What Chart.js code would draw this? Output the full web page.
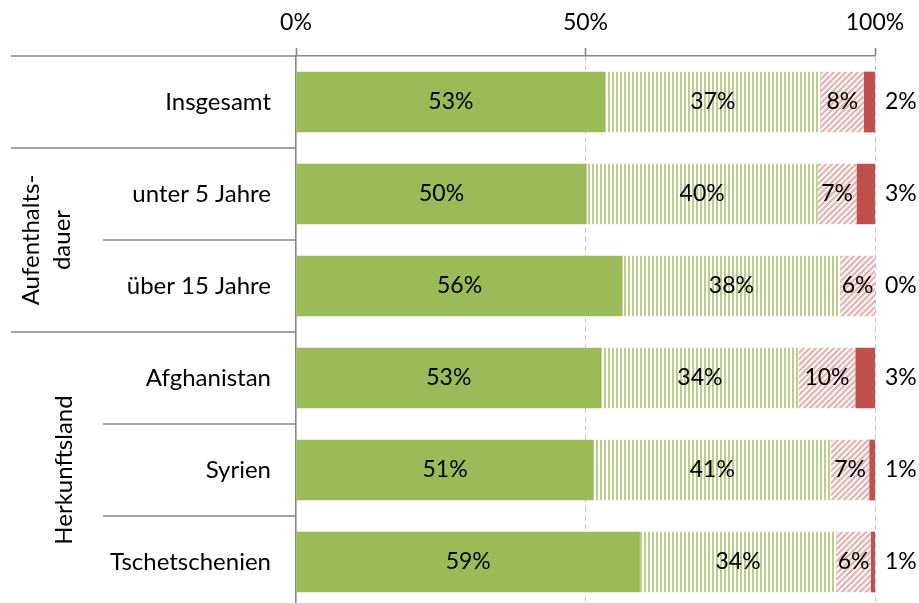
<!DOCTYPE html>
<html>
<head>
<meta charset="utf-8">
<script src="https://cdn.jsdelivr.net/npm/chart.js@4"></script>
<style>
  html, body { margin: 0; padding: 0; background: #fff; overflow: hidden; }
  #wrap { position: relative; width: 919px; height: 608px; }
</style>
</head>
<body>
<div id="wrap"><canvas id="chart"></canvas></div>
<script>
/* ==========================================================================
   DATA
   ========================================================================== */
const categories = ["Insgesamt", "unter 5 Jahre", "über 15 Jahre", "Afghanistan", "Syrien", "Tschetschenien"];
const solidGreen = [53.4, 50.2, 56.4, 52.7, 51.4, 59.4];
const stripedGreen = [37.2, 39.9, 37.6, 34.1, 41.0, 33.9];
const hatchedRed = [7.5, 6.7, 6.0, 9.8, 6.6, 6.0];
const solidRed = [1.9, 3.2, 0, 3.4, 1.0, 0.7];
const xTicks = [0, 50, 100];

// row groups on the left side (index of first and last category)
const groupLabels = [["Aufenthalts-", "dauer"], ["Herkunftsland"]];
const groupFirst = [1, 3];
const groupLast = [2, 5];

const FONT = "Lato, 'Open Sans', sans-serif";
const LINE_GREY = "#868686";

/* ==========================================================================
   PATTERNS
   ========================================================================== */
function stripePattern() {
    const c = document.createElement("canvas");
    c.width = 4; c.height = 4;
    const g = c.getContext("2d");
    g.fillStyle = "#ffffff";
    g.fillRect(0, 0, 4, 4);
    g.fillStyle = "#bad08a";
    g.fillRect(0, 0, 2, 4);
    return g.createPattern(c, "repeat");
}

function hatchPattern() {
    const s = 6;
    const c = document.createElement("canvas");
    c.width = s; c.height = s;
    const g = c.getContext("2d");
    g.fillStyle = "#ffffff";
    g.fillRect(0, 0, s, s);
    g.strokeStyle = "#e6b5b4";
    g.lineWidth = 2.4;
    g.beginPath();
    g.moveTo(0, s); g.lineTo(s, 0);
    g.moveTo(-2, 2); g.lineTo(2, -2);
    g.moveTo(s - 2, s + 2); g.lineTo(s + 2, s - 2);
    g.stroke();
    return g.createPattern(c, "repeat");
}

/* ==========================================================================
   PLUGINS
   ========================================================================== */
const segmentLabels = {
    id: "segmentLabels",
    afterDatasetsDraw(chart) {
        const ctx = chart.ctx;
        const last = chart.data.datasets.length - 1;
        ctx.save();
        ctx.font = "23px " + FONT;
        ctx.fillStyle = "#000";
        ctx.textBaseline = "middle";
        chart.data.datasets.forEach((ds, i) => {
            chart.getDatasetMeta(i).data.forEach((bar, j) => {
                const text = Math.round(ds.data[j]) + "%";
                if (i === last) {
                    ctx.textAlign = "left";
                    ctx.fillText(text, chart.chartArea.right + 10, bar.y);
                } else {
                    ctx.textAlign = "center";
                    ctx.fillText(text, (bar.x + bar.base) / 2, bar.y);
                }
            });
        });
        ctx.restore();
    }
};

const rowGroups = {
    id: "rowGroups",
    afterDraw(chart) {
        const ctx = chart.ctx;
        const y = chart.scales.y;
        const left = chart.chartArea.left;
        const n = categories.length;
        const rowH = y.getPixelForTick(1) - y.getPixelForTick(0);
        ctx.save();
        ctx.strokeStyle = LINE_GREY;
        ctx.lineWidth = 1.6;

        // separator above each category row
        for (let i = 0; i < n; i++) {
            const yy = y.getPixelForTick(i) - rowH / 2;
            const inside = groupFirst.some((f, g) => i > f && i <= groupLast[g]);
            ctx.beginPath();
            ctx.moveTo(inside ? 103 : 11, yy);
            ctx.lineTo(left, yy);
            ctx.stroke();
        }

        // rotated group labels
        ctx.font = "24px " + FONT;
        ctx.fillStyle = "#000";
        ctx.textAlign = "center";
        ctx.textBaseline = "middle";
        const lineX = [[31, 62], [64]];
        groupLabels.forEach((lines, g) => {
            const top = y.getPixelForTick(groupFirst[g]) - rowH / 2;
            const bottom = y.getPixelForTick(groupLast[g]) + rowH / 2;
            const cy = (top + bottom) / 2;
            lines.forEach((line, k) => {
                ctx.save();
                ctx.translate(lineX[g][k], cy);
                ctx.rotate(-Math.PI / 2);
                ctx.fillText(line, 0, 0);
                ctx.restore();
            });
        });
        ctx.restore();
    }
};

/* ==========================================================================
   CHART
   ========================================================================== */
const ctx = document.getElementById("chart").getContext("2d");

new Chart(ctx, {
    type: "bar",
    data: {
        labels: categories,
        datasets: [
            { data: solidGreen, backgroundColor: "#9bbb59" },
            { data: stripedGreen, backgroundColor: stripePattern() },
            { data: hatchedRed, backgroundColor: hatchPattern() },
            { data: solidRed, backgroundColor: "#c0504d" }
        ]
    },
    options: {
        indexAxis: "y",
        responsive: true,
        maintainAspectRatio: false,
        devicePixelRatio: 1,
        animation: false,
        events: [],
        layout: { padding: { left: 0, right: 44, top: 0, bottom: 0 } },
        datasets: {
            bar: { categoryPercentage: 1, barPercentage: 0.66, borderWidth: 0 }
        },
        plugins: {
            legend: { display: false },
            tooltip: { enabled: false }
        },
        scales: {
            x: {
                position: "top",
                stacked: true,
                min: 0,
                max: 100,
                afterBuildTicks: scale => { scale.ticks = xTicks.map(v => ({ value: v })); },
                afterFit: scale => { scale.height = 56; },
                ticks: {
                    color: "#000",
                    font: { family: FONT, size: 23 },
                    padding: 12,
                    callback: v => v + "%"
                },
                grid: {
                    color: ctx => ctx.tick && ctx.tick.value === 0 ? "rgba(0,0,0,0)" : "#c4c4c4",
                    lineWidth: 1,
                    tickColor: LINE_GREY,
                    tickLength: 8,
                    tickBorderDash: [],
                    tickWidth: 1.6
                },
                border: { display: true, color: LINE_GREY, width: 1.6, dash: [5, 4] }
            },
            y: {
                stacked: true,
                afterFit: scale => {
                    scale.width = 296;
                    // rows fill the full height, no label overhang
                    scale.paddingTop = 0;
                    scale.paddingBottom = 0;
                },
                ticks: {
                    color: "#000",
                    font: { family: FONT, size: 24 },
                    padding: 17
                },
                grid: { display: false },
                border: { display: true, color: LINE_GREY, width: 1.6 }
            }
        }
    },
    plugins: [segmentLabels, rowGroups]
});
</script>
</body>
</html>
